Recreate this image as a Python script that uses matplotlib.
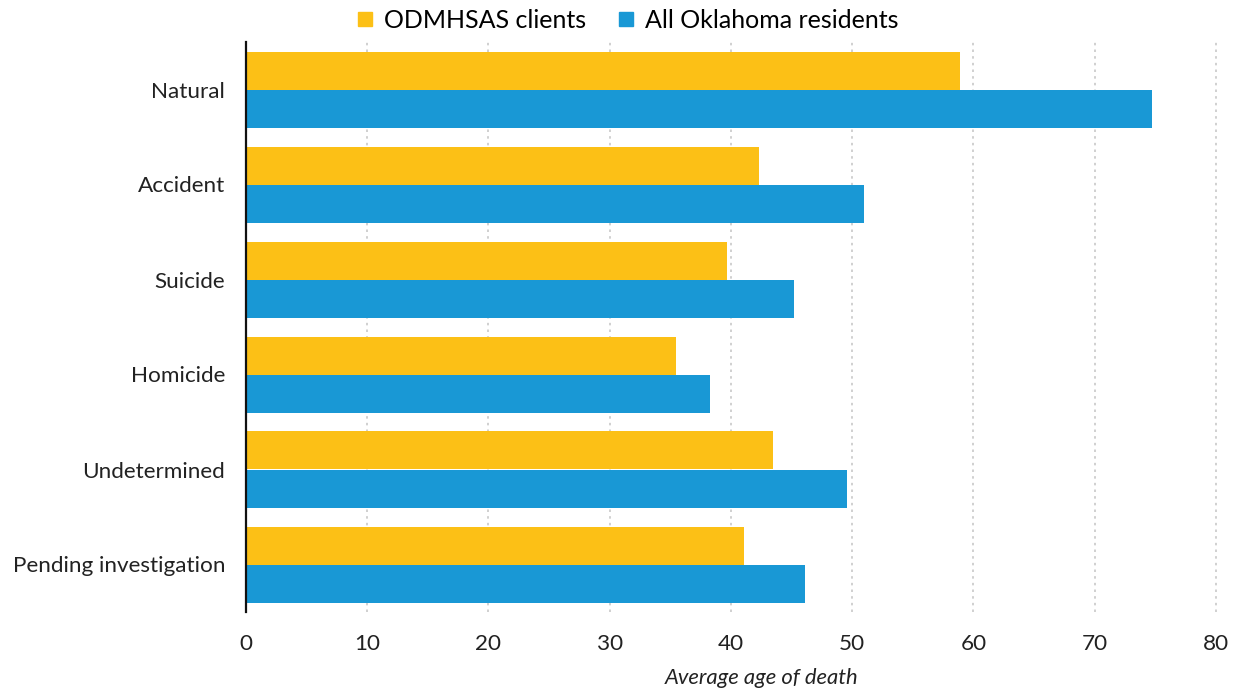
import matplotlib.pyplot as plt
import numpy as np
from matplotlib.lines import Line2D

plt.rcParams['font.family'] = ['Lato', 'DejaVu Sans']

causes = ["Natural", "Accident", "Suicide", "Homicide", "Undetermined", "Pending investigation"]
odmhsas = [58.9, 42.3, 39.7, 35.5, 43.5, 41.1]
all_ok = [74.7, 51.0, 45.2, 38.3, 49.6, 46.1]

C_YEL = "#fcc016"
C_BLU = "#1998d5"

fig = plt.figure(figsize=(12.42, 6.93), dpi=100)
ax = fig.add_axes([246 / 1242, 81 / 693, 976 / 1242, 570 / 693])

y = np.arange(len(causes))
h = 0.4
ax.barh(y - h / 2, odmhsas, height=h, color=C_YEL, zorder=3)
ax.barh(y + h / 2, all_ok, height=h, color=C_BLU, zorder=3)

ax.set_ylim(5.5, -0.5)
ax.set_xlim(0, 80.5)
ax.set_xticks(range(0, 81, 10))
ax.set_yticks(y)
ax.set_yticklabels(causes)
ax.tick_params(axis='both', length=0, labelsize=16.2, colors="#222222")
ax.tick_params(axis='x', pad=16)
ax.tick_params(axis='y', pad=15)
ax.grid(axis='x', linestyle=(0, (1.5, 2.5)), color="#c8c8c8", linewidth=1.2, zorder=0)

for s in ["top", "right", "bottom"]:
    ax.spines[s].set_visible(False)
ax.spines["left"].set_linewidth(1.6)
ax.spines["left"].set_color("#111111")
ax.spines["left"].set_zorder(4)

ax.set_xlabel("Average age of death", fontsize=15.8, style="italic", color="#222222")
ax.xaxis.set_label_coords(0.528, -0.098)

handles = [
    Line2D([], [], marker='s', linestyle='none', markersize=10, color=C_YEL),
    Line2D([], [], marker='s', linestyle='none', markersize=10, color=C_BLU),
]
fig.legend(handles, ["ODMHSAS clients", "All Oklahoma residents"], loc="center",
           bbox_to_anchor=(627 / 1242, 1 - 20 / 693), ncol=2, frameon=False,
           fontsize=18, handlelength=0.8, handletextpad=0.35, columnspacing=1.2)

plt.savefig("out.png", dpi=100, facecolor="white")
